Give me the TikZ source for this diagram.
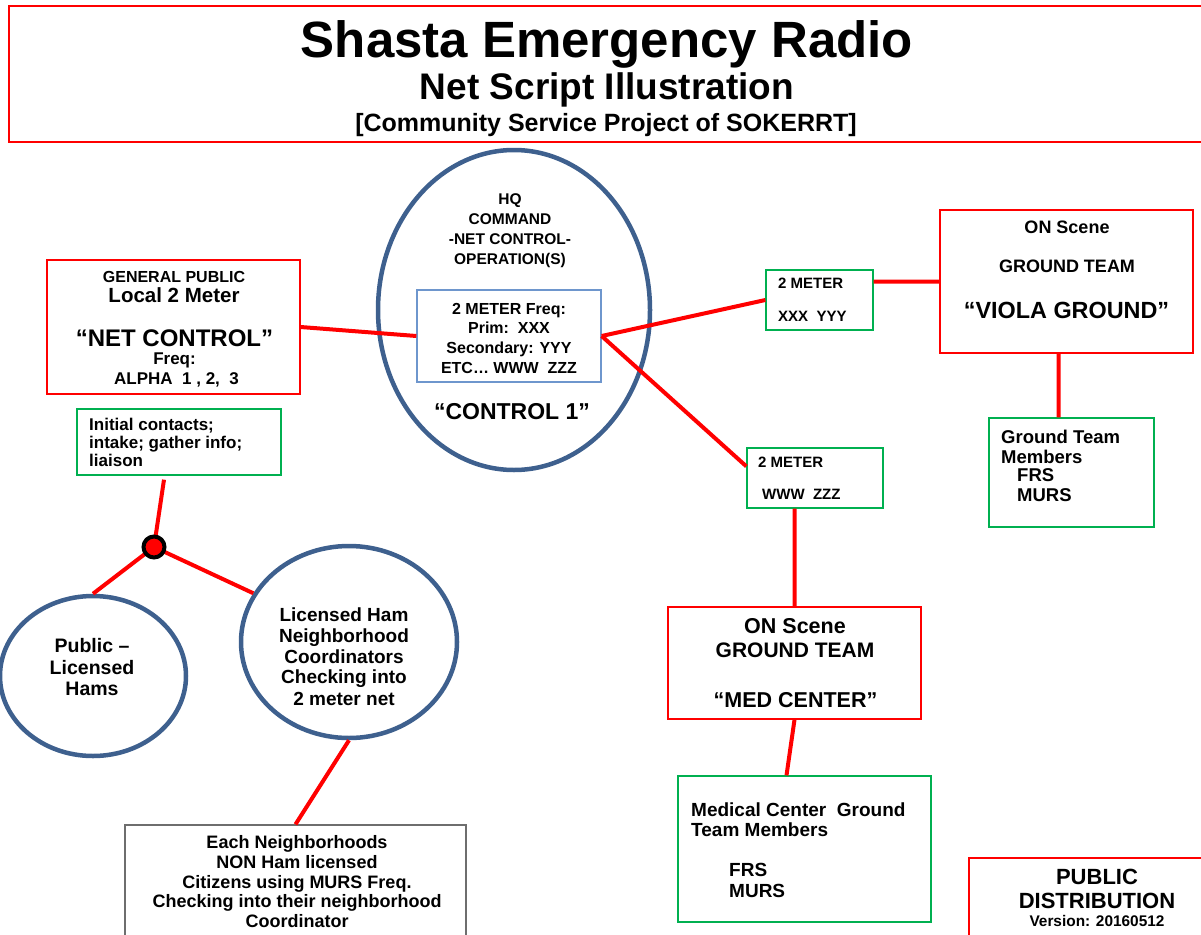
\documentclass[tikz,border=0pt]{standalone}
\usepackage{fontspec}
\setmainfont{Liberation Sans}
\usetikzlibrary{shapes.geometric}
\definecolor{boxred}{RGB}{255,0,0}
\definecolor{boxgreen}{RGB}{0,176,80}
\definecolor{innerblue}{RGB}{110,150,205}
\definecolor{ellblue}{RGB}{62,96,142}
\definecolor{boxgray}{RGB}{110,110,110}
\newcommand\fsz[1]{\fontsize{#1}{#1}\selectfont\bfseries}
\tikzset{
	box/.style={rectangle, draw=#1, line width=1.3, inner sep=0},
	oval/.style={ellipse, draw=ellblue, line width=4.5, inner sep=0},
	link/.style={draw=boxred, line width=4},
	txt/.style={anchor=base, inner sep=0},
	ltxt/.style={anchor=base west, inner sep=0},
	hub/.style={circle, fill=boxred, draw=black, line width=4, minimum size=21, inner sep=0}
}
\begin{document}
\begin{tikzpicture}[x=1pt,y=-1pt]
	\useasboundingbox (0,0) rectangle (1201,934);
	% title
	\node[box=boxred, minimum width=1196, minimum height=136] (title) at (607,74) {};
	\node[txt, font=\fsz{51}] (t1) at (607,58) {Shasta Emergency Radio};
	\node[txt, font=\fsz{37}] (t2) at (607,99) {Net Script Illustration};
	\node[txt, font=\fsz{25}] (t3) at (606,131) {[Community Service Project of SOKERRT]};
	% HQ
	\node[oval, minimum width=272, minimum height=320] (hq) at (514,310) {};
	\foreach \t/\y [count=\i] in {HQ/204, COMMAND/224, -NET CONTROL-/244, OPERATION(S)/264}
		\node[txt, font=\fsz{15.5}] (hq\i) at (510,\y) {\t};
	\node[box=innerblue, fill=white, minimum width=184, minimum height=92] (freq) at (509,336) {};
	\foreach \t/\y [count=\i] in {2 METER Freq:/314, Prim:\ \ XXX/333, Secondary: YYY/353, ETC… WWW\ \ ZZZ/373}
		\node[txt, font=\fsz{16}] (fq\i) at (509,\y) {\t};
	\node[txt, font=\fsz{23}] (c1) at (512,419) {“CONTROL 1”};
	% general public
	\node[box=boxred, minimum width=253, minimum height=134] (gp) at (173.5,327) {};
	\node[txt, font=\fsz{16}] (gp1) at (174,282) {GENERAL PUBLIC};
	\node[txt, font=\fsz{20.5}] (gp2) at (174,302) {Local 2 Meter};
	\node[txt, font=\fsz{24}] (gp3) at (174.5,346) {“NET CONTROL”};
	\node[txt, font=\fsz{17}] (gp4) at (174.5,364) {Freq:};
	\node[txt, font=\fsz{17}] (gp5) at (176.5,384) {ALPHA\ \ 1 , 2,\ \ 3};
	\node[box=boxgreen, minimum width=204, minimum height=66] (init) at (179,442) {};
	\foreach \t/\y [count=\i] in {Initial contacts;/430, intake; gather info;/448, liaison/466}
		\node[ltxt, font=\fsz{17}] (in\i) at (89,\y) {\t};
	% hams
	\node[oval, minimum width=186, minimum height=160] (pub) at (93,676) {};
	\foreach \t/\y [count=\i] in {Public –/652, Licensed/674, Hams/695}
		\node[txt, font=\fsz{19.5}] (pb\i) at (92,\y) {\t};
	\node[oval, minimum width=216, minimum height=192] (ham) at (349,642) {};
	\foreach \t/\y [count=\i] in {Licensed Ham/621, Neighborhood/642, Coordinators/663, Checking into/683, 2 meter net/705}
		\node[txt, font=\fsz{19}] (hm\i) at (344,\y) {\t};
	\node[box=boxgray, minimum width=341, minimum height=115] (each) at (295.5,882.5) {};
	\foreach \t/\y [count=\i] in {Each Neighborhoods/848, NON Ham licensed/868, Citizens using MURS Freq./888, Checking into their neighborhood/907, Coordinator/927}
		\node[txt, font=\fsz{18}] (ea\i) at (297,\y) {\t};
	% 2 meter links
	\node[box=boxgreen, minimum width=107, minimum height=60] (xxx) at (819.5,300) {};
	\node[ltxt, font=\fsz{15}] (xx1) at (778,288) {2 METER};
	\node[ltxt, font=\fsz{15}] (xx2) at (778,321) {XXX\ \ YYY};
	\node[box=boxgreen, minimum width=136, minimum height=60] (www) at (815,478) {};
	\node[ltxt, font=\fsz{15}] (ww1) at (758,467) {2 METER};
	\node[ltxt, font=\fsz{15}] (ww2) at (762,499) {WWW\ \ ZZZ};
	% viola
	\node[box=boxred, minimum width=253, minimum height=143] (viola) at (1066.5,281.5) {};
	\node[txt, font=\fsz{18}] (vi1) at (1067,233) {ON Scene};
	\node[txt, font=\fsz{18}] (vi2) at (1067,272) {GROUND TEAM};
	\node[txt, font=\fsz{23.4}] (vi3) at (1066.5,318) {“VIOLA GROUND”};
	\node[box=boxgreen, minimum width=165, minimum height=109] (gtm) at (1071.5,472.5) {};
	\foreach \t/\x/\y [count=\i] in {Ground Team/1001/443, Members/1001/463, FRS/1017/481, MURS/1017/501}
		\node[ltxt, font=\fsz{18.5}] (gt\i) at (\x,\y) {\t};
	% med center
	\node[box=boxred, minimum width=253, minimum height=112] (med) at (794.5,663) {};
	\node[txt, font=\fsz{21.5}] (md1) at (795,633) {ON Scene};
	\node[txt, font=\fsz{21}] (md2) at (795,657) {GROUND TEAM};
	\node[txt, font=\fsz{21.5}] (md3) at (795.5,707) {“MED CENTER”};
	\node[box=boxgreen, minimum width=253, minimum height=146] (mct) at (804.5,849) {};
	\foreach \t/\x/\y [count=\i] in {Medical Center\ \ Ground/691/816, Team Members/691/836, FRS/729/876, MURS/729/897}
		\node[ltxt, font=\fsz{19}] (mc\i) at (\x,\y) {\t};
	\node[box=boxred, minimum width=241, minimum height=82] (dist) at (1089.5,899) {};
	\node[txt, font=\fsz{22}] (ds1) at (1097,884) {PUBLIC};
	\node[txt, font=\fsz{22}] (ds2) at (1097,908) {DISTRIBUTION};
	\node[txt, font=\fsz{15.4}] (ds3) at (1097,926) {Version: 20160512};
	% links
	\coordinate (hubc) at (154,547);
	\path[link] (gp.east) -- (freq.west)
		(freq.east) -- (xxx.west)
		(freq.east) -- ([yshift=-19pt]www.north west)
		(xxx.east |- viola.west) -- (viola.west)
		([xshift=-8pt]viola.south) -- ([xshift=-8pt]viola.south |- gtm.north)
		(med.north) -- (med.north |- www.south)
		(med.south) -- ([xshift=-18pt]mct.north)
		([xshift=-15pt,yshift=-4pt]init.south) -- (hubc)
		(hubc) -- (pub.north)
		(hubc) -- (ham.153)
		(ham.south) -- (each.north);
	\node[hub] (hub) at (hubc) {};
\end{tikzpicture}
\end{document}
